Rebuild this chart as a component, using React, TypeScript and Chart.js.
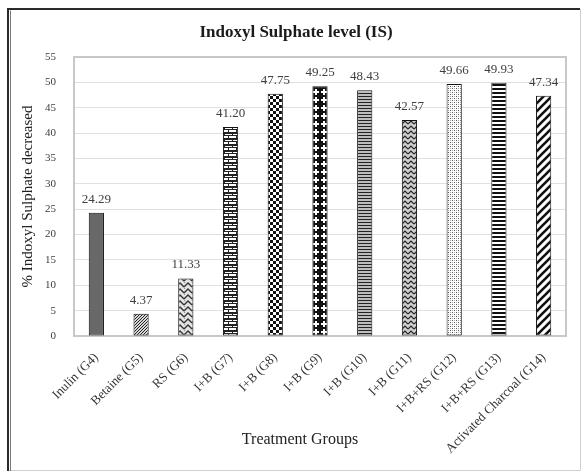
import React, { useEffect, useRef } from "react";
import { Chart, registerables } from "chart.js";

Chart.register(...registerables);

const categories = [
  "Inulin (G4)",
  "Betaine (G5)",
  "RS (G6)",
  "I+B (G7)",
  "I+B (G8)",
  "I+B (G9)",
  "I+B (G10)",
  "I+B (G11)",
  "I+B+RS (G12)",
  "I+B+RS (G13)",
  "Activated Charcoal (G14)",
];
const values = [24.29, 4.37, 11.33, 41.2, 47.75, 49.25, 48.43, 42.57, 49.66, 49.93, 47.34];
const patternKeys = ["solid", "fineDots", "zigzag", "brick", "checker", "plus", "hlinesThin", "smallZig", "lightDots", "hlinesThick", "diag"];
const chartTitle = "Indoxyl Sulphate level (IS)";
const xTitle = "Treatment Groups";
const yTitle = "% Indoxyl Sulphate decreased";

const SERIF = "'Liberation Serif', 'Times New Roman', serif";

function makePattern(ctx: CanvasRenderingContext2D, key: string): any {
  const tile = (w: number, h: number, draw: (g: CanvasRenderingContext2D) => void) => {
    const c = document.createElement("canvas");
    c.width = w;
    c.height = h;
    const g = c.getContext("2d") as CanvasRenderingContext2D;
    g.fillStyle = "#fff";
    g.fillRect(0, 0, w, h);
    draw(g);
    return ctx.createPattern(c, "repeat");
  };
  switch (key) {
    case "solid":
      return "#686868";
    case "fineDots":
      return tile(3, 3, (g) => {
        g.fillStyle = "#d8d8d8";
        g.fillRect(0, 0, 3, 3);
        g.fillStyle = "#222";
        g.fillRect(0, 0, 1, 1);
        g.fillRect(1, 2, 1, 1);
        g.fillRect(2, 1, 1, 1);
      });
    case "zigzag":
      return tile(8, 6, (g) => {
        g.fillStyle = "#e4e4e4";
        g.fillRect(0, 0, 8, 6);
        g.strokeStyle = "#333";
        g.lineWidth = 1.4;
        g.beginPath();
        g.moveTo(0, 5);
        g.lineTo(4, 1);
        g.lineTo(8, 5);
        g.stroke();
        g.fillStyle = "#888";
        g.fillRect(0, 0, 1, 1);
      });
    case "brick":
      return tile(8, 6, (g) => {
        g.fillStyle = "#222";
        g.fillRect(0, 0, 8, 2);
        g.fillRect(0, 3, 8, 1);
        g.fillRect(0, 2, 1, 1);
        g.fillRect(4, 4, 1, 2);
      });
    case "checker":
      return tile(6, 6, (g) => {
        g.fillStyle = "#111";
        g.fillRect(0, 0, 3, 3);
        g.fillRect(3, 3, 3, 3);
      });
    case "plus":
      return tile(8, 8, (g) => {
        g.fillStyle = "#111";
        g.fillRect(0, 0, 8, 8);
        g.fillStyle = "#fff";
        g.fillRect(3, 1, 2, 6);
        g.fillRect(1, 3, 6, 2);
      });
    case "hlinesThin":
      return tile(4, 3, (g) => {
        g.fillStyle = "#bdbdbd";
        g.fillRect(0, 0, 4, 3);
        g.fillStyle = "#222";
        g.fillRect(0, 0, 4, 1);
      });
    case "smallZig":
      return tile(6, 5, (g) => {
        g.fillStyle = "#cfcfcf";
        g.fillRect(0, 0, 6, 5);
        g.strokeStyle = "#222";
        g.lineWidth = 1.2;
        g.beginPath();
        g.moveTo(0, 4);
        g.lineTo(3, 1);
        g.lineTo(6, 4);
        g.stroke();
      });
    case "lightDots":
      return tile(4, 4, (g) => {
        g.fillStyle = "#555";
        g.fillRect(0, 0, 1, 1);
        g.fillRect(2, 2, 1, 1);
        g.fillStyle = "#aaa";
        g.fillRect(2, 0, 1, 1);
        g.fillRect(0, 2, 1, 1);
      });
    case "hlinesThick":
      return tile(4, 4, (g) => {
        g.fillStyle = "#111";
        g.fillRect(0, 0, 4, 2);
      });
    case "diag":
      return tile(8, 8, (g) => {
        g.strokeStyle = "#111";
        g.lineWidth = 2.6;
        g.beginPath();
        g.moveTo(-2, 10);
        g.lineTo(10, -2);
        g.moveTo(-6, 6);
        g.lineTo(6, -6);
        g.moveTo(2, 14);
        g.lineTo(14, 2);
        g.stroke();
      });
  }
  return "#888";
}

const framePlugin = {
  id: "frame",
  beforeDraw(chart: any) {
    const { ctx, width, height } = chart;
    ctx.save();
    ctx.fillStyle = "#fff";
    ctx.fillRect(0, 0, width, height);
    ctx.strokeStyle = "#d0d0d0";
    ctx.lineWidth = 1;
    ctx.beginPath();
    ctx.moveTo(580.5, 9);
    ctx.lineTo(580.5, 470.5);
    ctx.lineTo(8, 470.5);
    ctx.stroke();
    ctx.strokeStyle = "#2a2a2a";
    ctx.lineWidth = 2;
    ctx.beginPath();
    ctx.moveTo(8, 471);
    ctx.lineTo(8, 9);
    ctx.lineTo(580, 9);
    ctx.stroke();
    ctx.lineWidth = 1;
    ctx.strokeStyle = "#777";
    ctx.beginPath();
    ctx.moveTo(10.5, 471);
    ctx.lineTo(10.5, 10.5);
    ctx.stroke();
    ctx.restore();
  },
  beforeDatasetsDraw(chart: any) {
    const { ctx, chartArea } = chart;
    ctx.save();
    ctx.strokeStyle = "#c8c8c8";
    ctx.lineWidth = 2;
    ctx.strokeRect(chartArea.left, chartArea.top, chartArea.right - chartArea.left, chartArea.bottom - chartArea.top);
    ctx.restore();
  },
  afterDraw(chart: any) {
    const { ctx } = chart;
    ctx.save();
    ctx.textAlign = "center";
    ctx.textBaseline = "middle";
    ctx.fillStyle = "#1a1a1a";
    ctx.font = `bold 17px ${SERIF}`;
    ctx.fillText(chartTitle, 296, 33);
    ctx.fillStyle = "#222";
    ctx.font = `16px ${SERIF}`;
    ctx.fillText(xTitle, 300, 440);
    ctx.restore();
  },
};

const labelPlugin = {
  id: "valueLabels",
  afterDatasetsDraw(chart: any) {
    const { ctx } = chart;
    const meta = chart.getDatasetMeta(0);
    ctx.save();
    ctx.font = `13px ${SERIF}`;
    ctx.fillStyle = "#404040";
    ctx.textAlign = "center";
    ctx.textBaseline = "bottom";
    meta.data.forEach((bar: any, i: number) => {
      ctx.fillText(values[i].toFixed(2), bar.x, bar.y - 7);
    });
    ctx.restore();
  },
};

export default function App() {
  const ref = useRef<HTMLCanvasElement>(null);
  useEffect(() => {
    document.body.style.margin = "0";
    const canvas = ref.current as HTMLCanvasElement;
    const ctx = canvas.getContext("2d") as CanvasRenderingContext2D;
    const fills = patternKeys.map((k) => makePattern(ctx, k));
    const chart = new Chart(ctx, {
      type: "bar",
      data: {
        labels: categories,
        datasets: [
          {
            data: values,
            backgroundColor: fills,
            borderColor: "#111",
            borderWidth: 1,
            borderSkipped: false,
            barPercentage: 0.34,
            categoryPercentage: 1,
          },
        ],
      },
      options: {
        responsive: false,
        animation: false,
        layout: { padding: { left: 14, right: 16, top: 57, bottom: 10 } },
        plugins: {
          legend: { display: false },
          tooltip: { enabled: false },
          title: { display: false },
        },
        scales: {
          x: {
            grid: { display: false, drawTicks: false },
            border: { display: false },
            ticks: {
              color: "#333",
              font: { family: SERIF, size: 13 },
              maxRotation: 45,
              minRotation: 45,
              padding: 14,
              autoSkip: false,
            },
            afterFit: (s: any) => {
              s.height = 127;
            },
          },
          y: {
            min: 0,
            max: 55,
            grid: { color: "#e0e0e0", lineWidth: 1, drawTicks: false },
            border: { display: false },
            ticks: {
              stepSize: 5,
              color: "#404040",
              font: { family: SERIF, size: 11 },
              padding: 18,
            },
            title: {
              display: true,
              text: yTitle,
              color: "#222",
              font: { family: SERIF, size: 15 },
              padding: { top: 5, bottom: 0 },
            },
            afterFit: (s: any) => {
              s.width = 60;
            },
          },
        },
      },
      plugins: [framePlugin, labelPlugin],
    } as any);
    return () => chart.destroy();
  }, []);
  return (
    <div style={{ position: "absolute", left: 0, top: 0, width: 582, height: 473 }}>
      <canvas ref={ref} width={582} height={473} />
    </div>
  );
}
